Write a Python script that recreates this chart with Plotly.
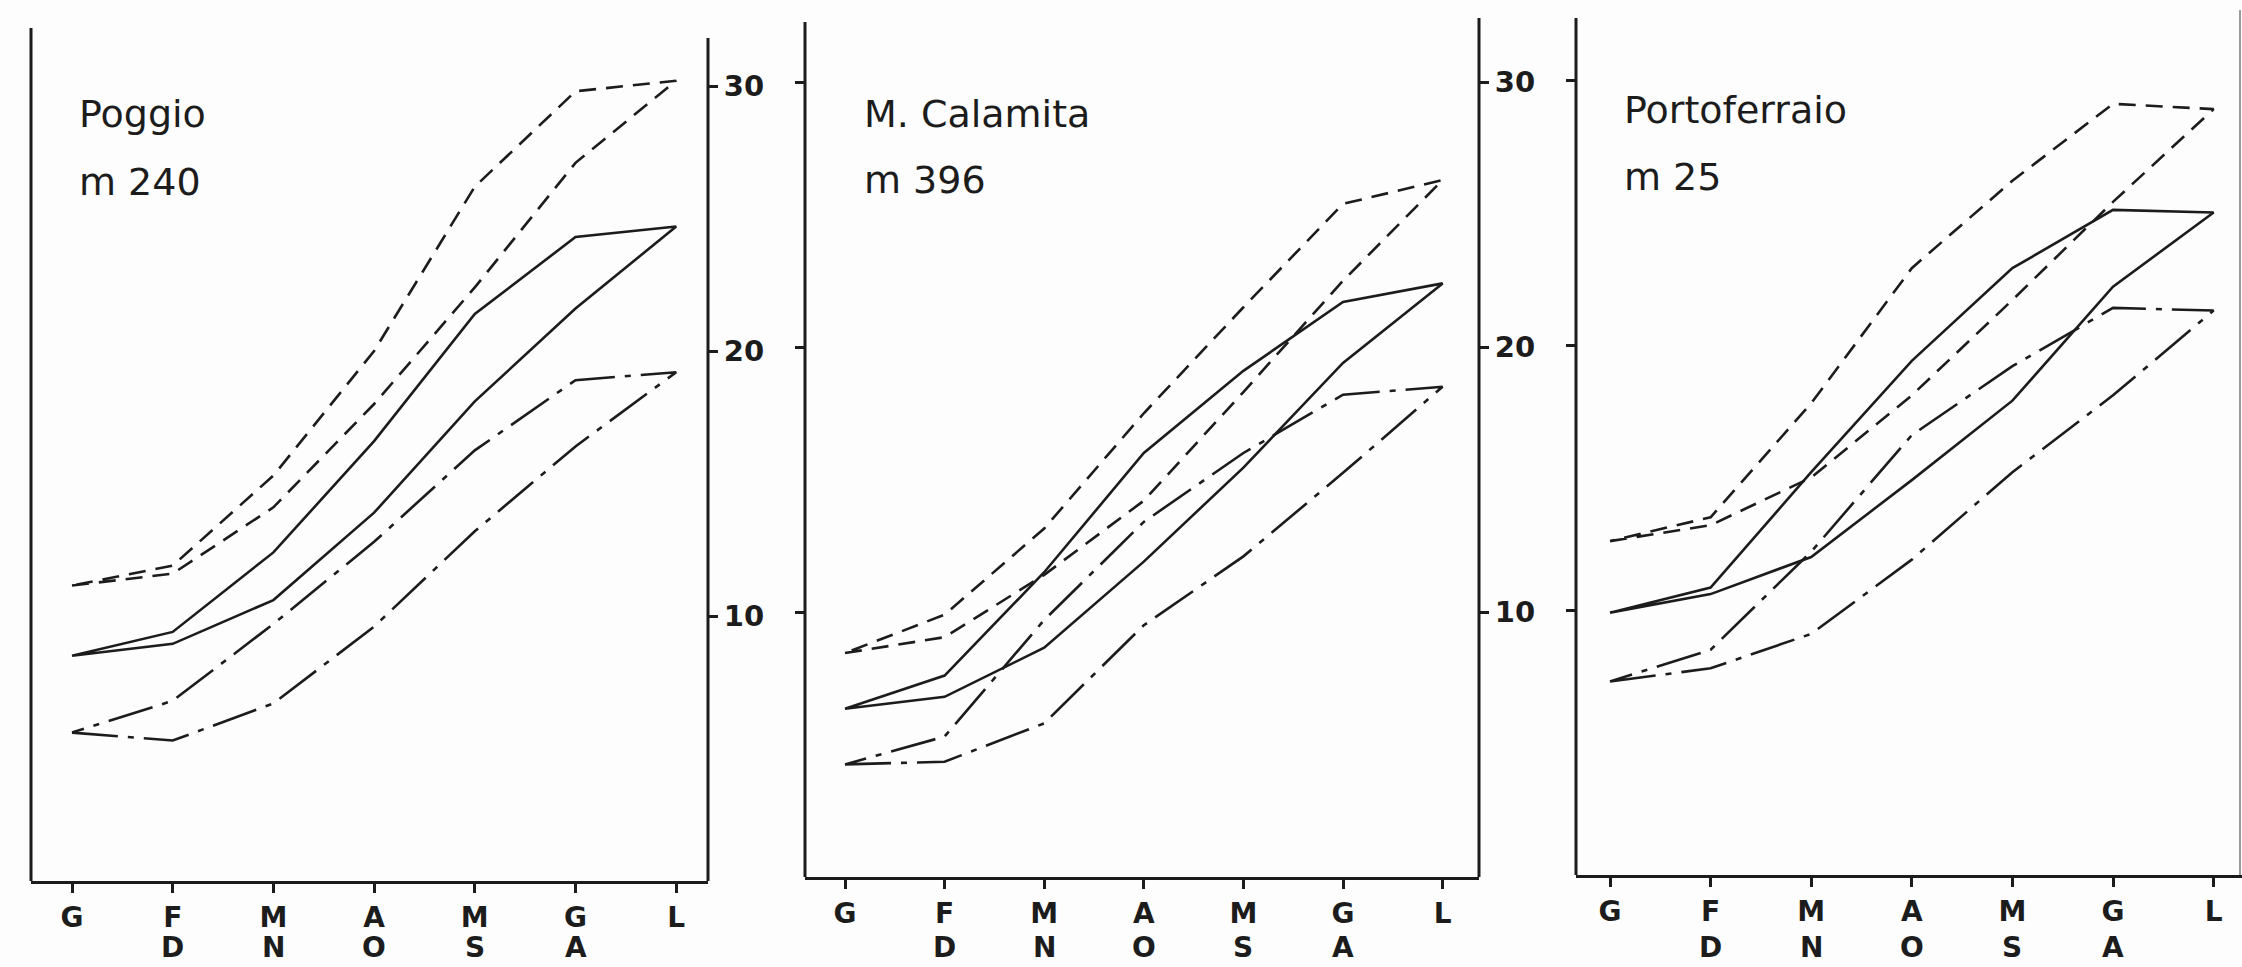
import plotly.graph_objects as go

W, H = 2242, 967
INK = "#1c1c1c"
FONT = "DejaVu Sans"

# Month initials (Italian): January..July on the first row, August..December folded back below
months_top = ["G", "F", "M", "A", "M", "G", "L"]
months_bottom = ["", "D", "N", "O", "S", "A", ""]
# Position of each month (Jan..Dec) on the folded axis
month_pos = [0, 1, 2, 3, 4, 5, 6, 5, 4, 3, 2, 1]

stations = ["Poggio", "M. Calamita", "Portoferraio"]
altitudes = ["m 240", "m 396", "m 25"]
y_ticks = [10, 20, 30]

# Monthly temperatures (°C), January..December
poggio_max = [11.15, 11.6, 14.1, 18.0, 22.4, 27.1, 30.2, 29.8, 26.2, 20.0, 15.3, 11.9]
poggio_mean = [8.5, 8.95, 10.6, 13.9, 18.1, 21.6, 24.7, 24.3, 21.4, 16.6, 12.4, 9.4]
poggio_min = [5.6, 5.3, 6.7, 9.6, 13.2, 16.4, 19.2, 18.9, 16.25, 12.8, 9.7, 6.8]

calamita_max = [8.45, 9.05, 11.4, 14.2, 18.3, 22.5, 26.3, 25.4, 21.5, 17.5, 13.15, 9.9]
calamita_mean = [6.35, 6.8, 8.65, 11.9, 15.45, 19.4, 22.4, 21.7, 19.1, 16.0, 11.5, 7.6]
calamita_min = [4.25, 4.35, 5.8, 9.5, 12.1, 15.25, 18.5, 18.2, 16.0, 13.4, 9.7, 5.3]

porto_max = [12.6, 13.2, 15.0, 18.1, 21.7, 25.4, 28.9, 29.1, 26.2, 22.9, 17.8, 13.5]
porto_mean = [9.9, 10.6, 12.0, 14.9, 17.9, 22.2, 25.0, 25.1, 22.9, 19.4, 15.2, 10.85]
porto_min = [7.3, 7.8, 9.1, 11.9, 15.2, 18.1, 21.3, 21.4, 19.2, 16.6, 12.2, 8.5]

series = [
    (poggio_max, poggio_mean, poggio_min),
    (calamita_max, calamita_mean, calamita_min),
    (porto_max, porto_mean, porto_min),
]

# Panel frames in pixels: spines, baseline, first tick position and tick step
panels = [
    dict(left=31, right=708, bottom=881, top=26, g=72, step=100.7,
         ltop=28, rtop=38, title_x=77, title_y=114, alt_y=182),
    dict(left=805, right=1479, bottom=877, top=16, g=845, step=99.6,
         ltop=22, rtop=18, title_x=862, title_y=114, alt_y=180),
    dict(left=1576, right=2242, bottom=875, top=16, g=1610, step=100.6,
         ltop=18, rtop=None, title_x=1622, title_y=110, alt_y=177),
]
PX_PER_DEG = 26.5
ROW2_Y = 947

dash_styles = ["17px,10px", "solid", "46px,10px,6px,10px"]

fig = go.Figure()
layout = dict(
    width=W, height=H,
    margin=dict(l=0, r=0, t=0, b=0),
    paper_bgcolor="#fdfdfd", plot_bgcolor="rgba(0,0,0,0)",
    showlegend=False,
    font=dict(family=FONT, color=INK),
)
shapes = []
annotations = []
tick_font = dict(family=FONT, size=28, color=INK, weight="bold")
num_font = dict(family=FONT, size=29, color=INK, weight="bold")
title_font = dict(family=FONT, size=38, color=INK)


def fx(px):
    return px / W


def fy(py):
    return 1 - py / H


loop_x = month_pos + [month_pos[0]]

for i, p in enumerate(panels):
    n = "" if i == 0 else str(i + 1)
    xa, ya = "x" + n, "y" + n
    for vals, dash in zip(series[i], dash_styles):
        fig.add_trace(go.Scatter(
            x=loop_x, y=list(vals) + [vals[0]],
            xaxis=xa, yaxis=ya, mode="lines",
            line=dict(color=INK, width=2.6, dash=dash),
            hoverinfo="skip",
        ))

    ymax = (p["bottom"] - p["top"]) / PX_PER_DEG
    layout["xaxis" + n] = dict(
        domain=[fx(p["left"]), fx(p["right"])],
        range=[(p["left"] - p["g"]) / p["step"], (p["right"] - p["g"]) / p["step"]],
        tickmode="array", tickvals=list(range(7)), ticktext=months_top,
        ticks="outside", ticklen=9, tickwidth=2.5, tickcolor=INK,
        showline=True, linewidth=3, linecolor=INK,
        showgrid=False, zeroline=False,
        tickfont=tick_font,
        anchor=ya, fixedrange=True,
    )
    yaxis = dict(
        domain=[fy(p["bottom"]), fy(p["top"])],
        range=[0, ymax],
        tickmode="array", tickvals=y_ticks,
        ticks="outside", ticklen=9, tickwidth=2.5, tickcolor=INK,
        showline=False, showgrid=False, zeroline=False,
        tickfont=num_font,
        anchor=xa, fixedrange=True,
    )
    if i == 0:
        yaxis.update(side="right", showticklabels=True)
    else:
        yaxis.update(side="left", showticklabels=False)
    layout["yaxis" + n] = yaxis

    # Spines
    shapes.append(dict(type="line", xref="paper", yref="paper",
                       x0=fx(p["left"]), x1=fx(p["left"]),
                       y0=fy(p["bottom"]), y1=fy(p["ltop"]),
                       line=dict(color=INK, width=3)))
    if p["rtop"] is not None:
        shapes.append(dict(type="line", xref="paper", yref="paper",
                           x0=fx(p["right"]), x1=fx(p["right"]),
                           y0=fy(p["bottom"]), y1=fy(p["rtop"]),
                           line=dict(color=INK, width=3)))

    # Station name and altitude
    annotations.append(dict(xref="paper", yref="paper", x=fx(p["title_x"]),
                            y=fy(p["title_y"]), xanchor="left", yanchor="middle",
                            text=stations[i], showarrow=False, font=title_font))
    annotations.append(dict(xref="paper", yref="paper", x=fx(p["title_x"]),
                            y=fy(p["alt_y"]), xanchor="left", yanchor="middle",
                            text=altitudes[i], showarrow=False, font=title_font))

    # Second row of month initials (August..December)
    for k, lab in enumerate(months_bottom):
        if lab:
            annotations.append(dict(xref=xa, yref="paper", x=k,
                                    y=fy(ROW2_Y), xanchor="center",
                                    yanchor="middle", text=lab, showarrow=False,
                                    borderpad=0, font=tick_font))

# Tick labels between the second and third panels
layout["yaxis4"] = dict(
    overlaying="y2", side="right", anchor="x2",
    range=layout["yaxis2"]["range"],
    tickmode="array", tickvals=y_ticks,
    ticks="outside", ticklen=9, tickwidth=2.5, tickcolor=INK,
    showline=False, showgrid=False, zeroline=False,
    tickfont=num_font, fixedrange=True,
)
fig.add_trace(go.Scatter(x=[None], y=[None], xaxis="x2", yaxis="y4",
                         mode="lines", hoverinfo="skip"))

# Right edge frame line
shapes.append(dict(type="line", xref="paper", yref="paper",
                   x0=fx(2240), x1=fx(2240), y0=fy(875), y1=fy(10),
                   line=dict(color="#9a9a9a", width=2)))

layout["shapes"] = shapes
layout["annotations"] = annotations
fig.update_layout(**layout)

fig.write_html("out.html")
